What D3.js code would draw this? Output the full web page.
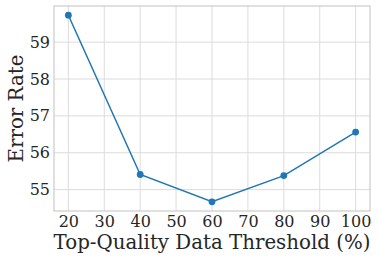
<!DOCTYPE html>
<html><head><meta charset="utf-8">
<script src="https://cdn.jsdelivr.net/npm/d3@7"></script>
<style>body{margin:0;background:#fff}svg{display:block}text{font-family:"DejaVu Serif",serif;fill:#262626}</style>
</head><body>
<script>
const thresholds = [20, 40, 60, 80, 100];
const errorRate = [59.73, 55.41, 54.67, 55.38, 56.56];
const xTicks = [20, 30, 40, 50, 60, 70, 80, 90, 100];
const yTicks = [55, 56, 57, 58, 59];

const W = 378, H = 261;
const m = {left: 54, top: 6, right: 8, bottom: 50};
const svg = d3.select("body").append("svg").attr("width", W).attr("height", H);
const x = d3.scaleLinear().domain([16, 104]).range([m.left, W - m.right]);
const y = d3.scaleLinear().domain([54.42, 59.98]).range([H - m.bottom, m.top]);

const g = svg.append("g");
g.selectAll(".gx").data(xTicks).join("line")
  .attr("x1", d => x(d)).attr("x2", d => x(d)).attr("y1", m.top).attr("y2", H - m.bottom)
  .attr("stroke", "#dcdcdc").attr("stroke-width", 1);
g.selectAll(".gy").data(yTicks).join("line")
  .attr("y1", d => y(d)).attr("y2", d => y(d)).attr("x1", m.left).attr("x2", W - m.right)
  .attr("stroke", "#dcdcdc").attr("stroke-width", 1);
g.append("rect").attr("x", m.left).attr("y", m.top).attr("width", W - m.left - m.right)
  .attr("height", H - m.top - m.bottom).attr("fill", "none").attr("stroke", "#cccccc").attr("stroke-width", 1.2);

const xa = svg.append("g").attr("transform", `translate(0,${H - m.bottom})`)
  .call(d3.axisBottom(x).tickValues(xTicks).tickFormat(d3.format("d")).tickSize(0).tickPadding(5));
xa.select(".domain").remove();
xa.selectAll("text").attr("font-size", 16).attr("font-family", "DejaVu Serif").attr("fill", "#262626");
const ya = svg.append("g").attr("transform", `translate(${m.left},0)`)
  .call(d3.axisLeft(y).tickValues(yTicks).tickFormat(d3.format("d")).tickSize(0).tickPadding(4));
ya.select(".domain").remove();
ya.selectAll("text").attr("font-size", 16).attr("font-family", "DejaVu Serif").attr("fill", "#262626");

const data = thresholds.map((t, i) => ({t, v: errorRate[i]}));
svg.append("path").datum(data)
  .attr("d", d3.line().x(d => x(d.t)).y(d => y(d.v)))
  .attr("fill", "none").attr("stroke", "#1f77b4").attr("stroke-width", 1.5);
svg.selectAll(".pt").data(data).join("circle")
  .attr("cx", d => x(d.t)).attr("cy", d => y(d.v)).attr("r", 3.4).attr("fill", "#1f77b4");

svg.append("text").attr("x", (m.left + W - m.right) / 2).attr("y", 248.5)
  .attr("text-anchor", "middle").attr("font-size", 19.8).text("Top-Quality Data Threshold (%)");
svg.append("text").attr("transform", `translate(23,${(m.top + H - m.bottom) / 2}) rotate(-90)`)
  .attr("text-anchor", "middle").attr("font-size", 19.8).text("Error Rate");
</script>
</body></html>
